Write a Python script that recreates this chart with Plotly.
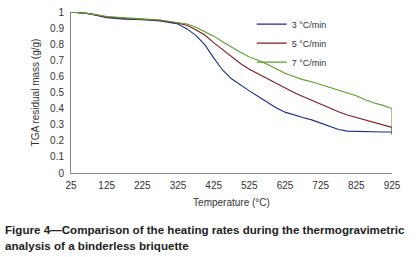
import plotly.graph_objects as go

temperature = [25, 75, 125, 175, 225, 275, 325, 350, 375, 400, 425, 450, 475, 500, 525, 550,
               575, 600, 625, 650, 675, 700, 725, 750, 775, 800, 825, 850, 875, 900, 925, 925]
rate_3 = [1.0, 0.99, 0.965, 0.955, 0.952, 0.945, 0.925, 0.895, 0.855, 0.797, 0.715, 0.64, 0.585,
          0.545, 0.51, 0.475, 0.44, 0.405, 0.378, 0.36, 0.345, 0.33, 0.31, 0.29, 0.27, 0.26,
          0.258, 0.257, 0.256, 0.255, 0.255, 0.24]
rate_5 = [1.0, 0.99, 0.97, 0.96, 0.955, 0.948, 0.93, 0.918, 0.89, 0.857, 0.81, 0.765, 0.725,
          0.68, 0.645, 0.615, 0.59, 0.555, 0.53, 0.50, 0.475, 0.45, 0.425, 0.40, 0.38, 0.36,
          0.345, 0.33, 0.315, 0.30, 0.283, 0.24]
rate_7 = [1.0, 0.99, 0.972, 0.963, 0.957, 0.95, 0.935, 0.925, 0.905, 0.878, 0.85, 0.815, 0.78,
          0.75, 0.72, 0.70, 0.675, 0.645, 0.62, 0.60, 0.58, 0.567, 0.55, 0.535, 0.515, 0.50,
          0.48, 0.455, 0.435, 0.42, 0.40, 0.24]
series_names = ["3 °C/min", "5 °C/min", "7 °C/min"]
series_colors = ["#1c2f86", "#7e1e1e", "#5c9e2e"]
x_ticks = [25, 125, 225, 325, 425, 525, 625, 725, 825, 925]
y_ticks = [0, 0.1, 0.2, 0.3, 0.4, 0.5, 0.6, 0.7, 0.8, 0.9, 1]

fig = go.Figure()
for name, vals, col in zip(series_names, [rate_3, rate_5, rate_7], series_colors):
    fig.add_trace(go.Scatter(x=temperature, y=vals, mode="lines", name=name,
                             line=dict(color=col, width=1.1)))

font = "Liberation Sans, Arial, sans-serif"
fig.update_layout(
    width=417, height=257,
    margin=dict(l=71, r=25, t=12, b=84, autoexpand=False),
    paper_bgcolor="white", plot_bgcolor="white",
    font=dict(family=font, size=10, color="#333"),
    showlegend=True,
    legend=dict(x=0.563, y=1.015, xanchor="left", yanchor="top",
                font=dict(size=9, color="#333"), bgcolor="rgba(0,0,0,0)",
                tracegroupgap=0, itemwidth=30),
    xaxis=dict(range=[25, 925], tickvals=x_ticks, ticktext=[str(v) for v in x_ticks],
               showline=True, linecolor="#888", linewidth=1, showgrid=False,
               zeroline=False, ticks="outside", ticklen=3, tickcolor="rgba(0,0,0,0)",
               automargin=False, ticklabeloverflow="allow",
               title=dict(text="Temperature (°C)", font=dict(size=10), standoff=8)),
    yaxis=dict(range=[0, 1], tickvals=y_ticks, ticktext=[f"{v:g}" for v in y_ticks],
               showline=True, linecolor="#888", linewidth=1, showgrid=False,
               zeroline=False, ticks="outside", ticklen=4, tickcolor="rgba(0,0,0,0)",
               automargin=False, ticklabeloverflow="allow",
               title=dict(text="TGA residual mass (g/g)", font=dict(size=10), standoff=8)),
    annotations=[
        dict(text="<b>Figure 4—Comparison of the heating rates during the thermogravimetric</b>",
             xref="paper", yref="paper", x=-68/321, y=(173-229)/161, xanchor="left",
             yanchor="middle", showarrow=False, font=dict(size=11.6, color="#222", family=font)),
        dict(text="<b>analysis of a binderless briquette</b>",
             xref="paper", yref="paper", x=-68/321, y=(173-245)/161, xanchor="left",
             yanchor="middle", showarrow=False, font=dict(size=11.6, color="#222", family=font)),
    ],
)
fig.write_html("out.html", config={"displayModeBar": False},
               post_script="document.body.style.margin='0';document.body.style.padding='0';")
